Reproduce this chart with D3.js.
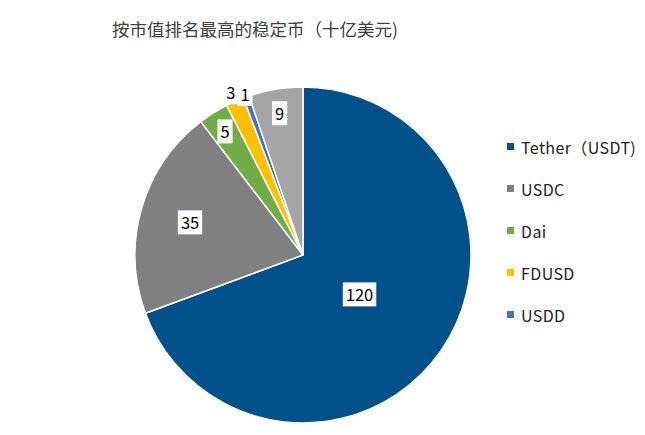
<!DOCTYPE html>
<html>
<head>
<meta charset="utf-8">
<script src="https://cdn.jsdelivr.net/npm/d3@7"></script>
<style>
  body { margin: 0; background: #fff; }
  text { font-family: "Noto Sans CJK SC", "Noto Sans", sans-serif; }
</style>
</head>
<body>
<div id="chart"></div>
<script>
// Chart data
var coins = ["Tether（USDT)", "USDC", "Dai", "FDUSD", "USDD", "其他"];
var values = [120, 35, 5, 3, 1, 9];
var colors = ["#02518b", "#808080", "#70ad47", "#ffc000", "#4472c4", "#a5a5a5"];
var legendCount = 5;

// Label distance from center, as fraction of radius
var labelRadius = [0.41, 0.70, 0.87, 1.06, 1.02, 0.855];

var svgWidth = 645;
var svgHeight = 435;
var cx = 303, cy = 255, radius = 168;

var svg = d3.select("#chart")
  .append("svg")
  .attr("width", svgWidth)
  .attr("height", svgHeight);

// Title
svg.append("text")
  .attr("x", 112)
  .attr("y", 36)
  .attr("font-size", 17.5)
  .attr("fill", "#404040")
  .text("按市值排名最高的稳定币（十亿美元)");

var pie = d3.pie().sort(null).value(d => d);
var arcs = pie(values);

var arc = d3.arc().innerRadius(0).outerRadius(radius);

var pieGroup = svg.append("g")
  .attr("transform", `translate(${cx}, ${cy})`);

pieGroup.selectAll("path")
  .data(arcs)
  .enter()
  .append("path")
  .attr("d", arc)
  .attr("fill", (d, i) => colors[i])
  .attr("stroke", "#fff")
  .attr("stroke-width", 1.5);

// Data labels with white boxes
arcs.forEach(function(d, i) {
  var mid = (d.startAngle + d.endAngle) / 2;
  var r = radius * labelRadius[i];
  var x = Math.sin(mid) * r;
  var y = -Math.cos(mid) * r;
  var g = pieGroup.append("g");
  var rect = g.append("rect").attr("fill", "#fff");
  var t = g.append("text")
    .attr("x", x)
    .attr("y", y)
    .attr("text-anchor", "middle")
    .attr("dominant-baseline", "central")
    .attr("font-size", 16.5)
    .attr("fill", "#000")
    .text(values[i]);
  var bb = t.node().getBBox();
  rect.attr("x", bb.x - 3)
    .attr("y", y - 12)
    .attr("width", bb.width + 6)
    .attr("height", 24);
});

// Legend
var legend = svg.append("g")
  .attr("transform", "translate(507, 147)");

var items = legend.selectAll("g")
  .data(coins.slice(0, legendCount))
  .enter()
  .append("g")
  .attr("transform", (d, i) => `translate(0, ${i * 42})`);

items.append("rect")
  .attr("x", 0)
  .attr("y", -4)
  .attr("width", 7)
  .attr("height", 7)
  .attr("fill", (d, i) => colors[i]);

items.append("text")
  .attr("x", 14)
  .attr("y", 0)
  .attr("dominant-baseline", "central")
  .attr("font-size", 16)
  .attr("letter-spacing", 0.4)
  .attr("fill", "#222")
  .text(d => d);
</script>
</body>
</html>
